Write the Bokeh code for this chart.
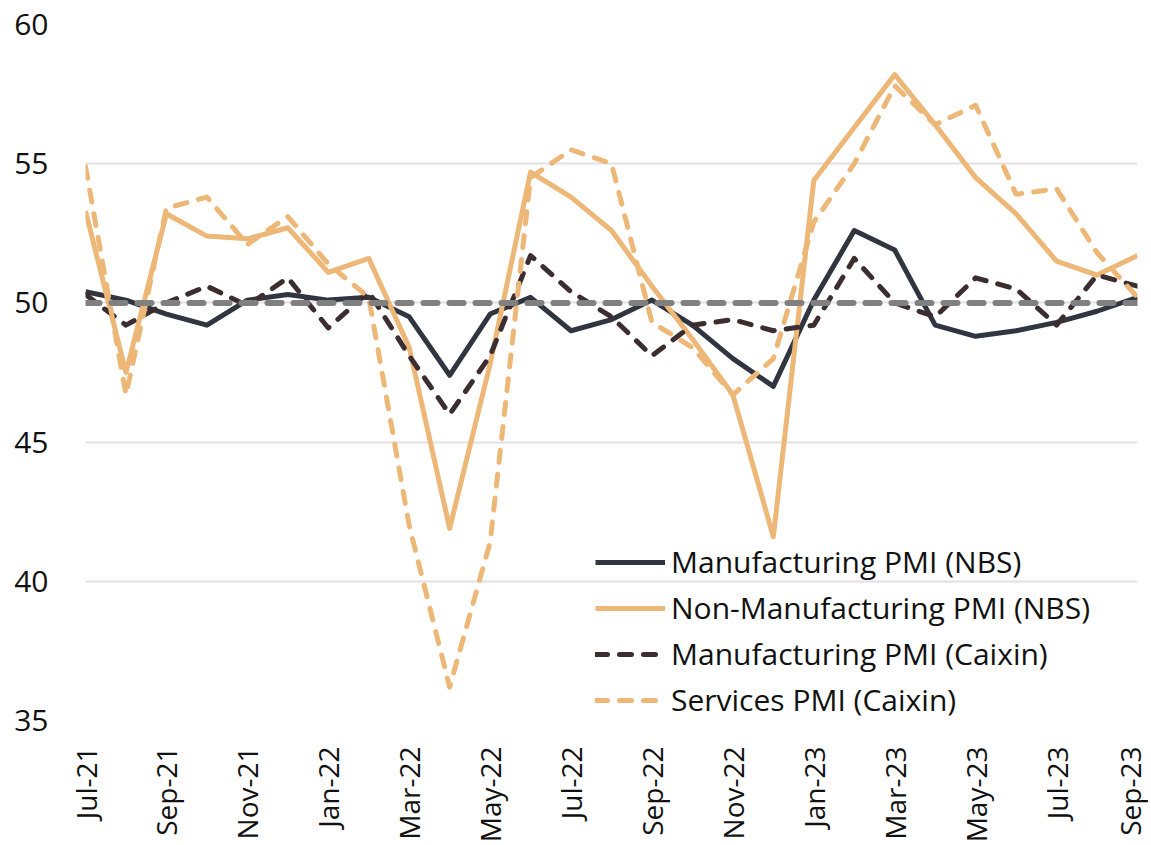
import math
from bokeh.plotting import figure
from bokeh.models import Legend, LegendItem, Span, FixedTicker
from bokeh.embed import file_html
from bokeh.resources import INLINE

months = ["Jul-21", "Aug-21", "Sep-21", "Oct-21", "Nov-21", "Dec-21",
          "Jan-22", "Feb-22", "Mar-22", "Apr-22", "May-22", "Jun-22",
          "Jul-22", "Aug-22", "Sep-22", "Oct-22", "Nov-22", "Dec-22",
          "Jan-23", "Feb-23", "Mar-23", "Apr-23", "May-23", "Jun-23",
          "Jul-23", "Aug-23", "Sep-23"]

nbs_manufacturing = [50.4, 50.1, 49.6, 49.2, 50.1, 50.3, 50.1, 50.2, 49.5, 47.4,
                     49.6, 50.2, 49.0, 49.4, 50.1, 49.2, 48.0, 47.0, 50.1, 52.6,
                     51.9, 49.2, 48.8, 49.0, 49.3, 49.7, 50.2]
nbs_non_manufacturing = [53.3, 47.5, 53.2, 52.4, 52.3, 52.7, 51.1, 51.6, 48.4, 41.9,
                         47.8, 54.7, 53.8, 52.6, 50.6, 48.7, 46.7, 41.6, 54.4, 56.3,
                         58.2, 56.4, 54.5, 53.2, 51.5, 51.0, 51.7]
caixin_manufacturing = [50.3, 49.2, 50.0, 50.6, 49.9, 50.9, 49.1, 50.4, 48.1, 46.0,
                        48.1, 51.7, 50.4, 49.5, 48.1, 49.2, 49.4, 49.0, 49.2, 51.6,
                        50.0, 49.5, 50.9, 50.5, 49.2, 51.0, 50.6]
caixin_services = [54.9, 46.7, 53.4, 53.8, 52.1, 53.1, 51.4, 50.2, 42.0, 36.2,
                   41.4, 54.5, 55.5, 55.0, 49.3, 48.4, 46.7, 48.0, 52.9, 55.0,
                   57.8, 56.4, 57.1, 53.9, 54.1, 51.8, 50.2]
y_ticks = [35, 40, 45, 50, 55, 60]
threshold = 50

x = list(range(len(months)))
FONT = "Open Sans"
NAVY = "#31353F"
TAN = "#EDB777"
BROWN = "#3C2E30"

p = figure(width=1148, height=845, output_backend="svg", toolbar_location=None,
           x_range=(0, len(months) - 1), y_range=(35, 60),
           min_border_left=85, min_border_right=11, min_border_top=24,
           min_border_bottom=124)
p.outline_line_color = None
p.background_fill_color = "white"
p.border_fill_color = "white"

p.xgrid.grid_line_color = None
p.ygrid.grid_line_color = "#E3E0E3"
p.ygrid.grid_line_width = 2

p.yaxis.ticker = FixedTicker(ticks=y_ticks)
p.xaxis.ticker = FixedTicker(ticks=x[::2])
p.xaxis.major_label_overrides = {i: months[i] for i in x}

for ax in (p.xaxis, p.yaxis):
    ax.axis_line_color = None
    ax.major_tick_line_color = None
    ax.minor_tick_line_color = None
    ax.major_tick_out = 0
    ax.major_label_text_font = FONT
    ax.major_label_text_color = "#111111"
p.yaxis.major_label_text_font_size = "30px"
p.xaxis.major_label_text_font_size = "28px"
p.yaxis.major_label_standoff = 37
p.xaxis.major_label_standoff = 26
p.xaxis.major_label_orientation = math.pi / 2

r1 = p.line(x, nbs_manufacturing, line_color=NAVY, line_width=5, line_join="round")
r2 = p.line(x, nbs_non_manufacturing, line_color=TAN, line_width=5, line_join="round")
r3 = p.line(x, caixin_manufacturing, line_color=BROWN, line_width=5, line_dash="12 12",
            line_cap="round", line_join="round")
r4 = p.line(x, caixin_services, line_color=TAN, line_width=5, line_dash="12 12",
            line_cap="round", line_join="round")

p.add_layout(Span(location=threshold, dimension="width", line_color="#808080",
                  line_width=6, line_dash="14 12", line_cap="round"))

legend = Legend(items=[
    LegendItem(label="Manufacturing PMI (NBS)", renderers=[r1]),
    LegendItem(label="Non-Manufacturing PMI (NBS)", renderers=[r2]),
    LegendItem(label="Manufacturing PMI (Caixin)", renderers=[r3]),
    LegendItem(label="Services PMI (Caixin)", renderers=[r4]),
], location=(510, 0))
legend.background_fill_alpha = 0
legend.border_line_alpha = 0
legend.padding = 0
legend.margin = 0
legend.spacing = 5
legend.glyph_width = 70
legend.glyph_height = 30
legend.label_height = 30
legend.label_standoff = 6
legend.label_text_font = FONT
legend.label_text_font_size = "30px"
legend.label_text_color = "#111111"
p.add_layout(legend, "center")

open("out.html", "w").write(file_html(p, INLINE))
